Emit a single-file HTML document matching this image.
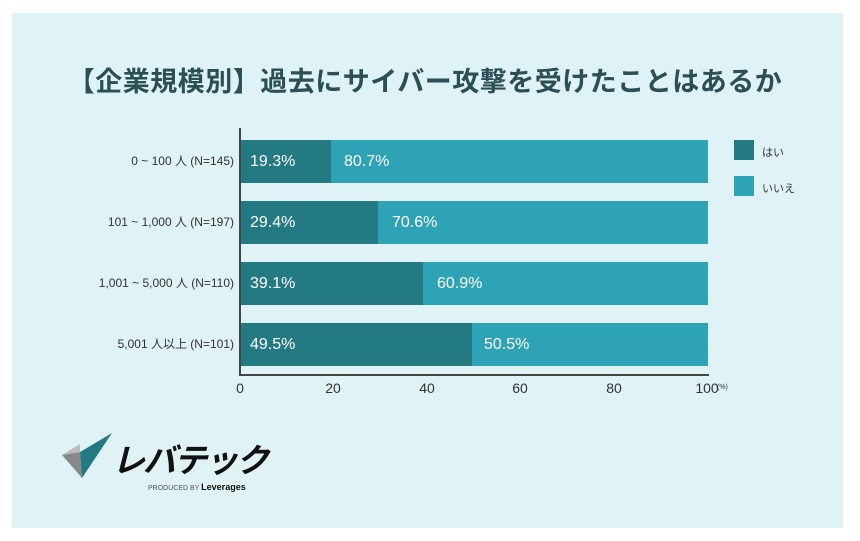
<!DOCTYPE html>
<html><head><meta charset="utf-8"><style>
body{margin:0;width:860px;height:541px;background:#fff;position:relative;overflow:hidden;font-family:"Liberation Sans","Noto Sans CJK JP",sans-serif;}
.panel{position:absolute;left:12px;top:13px;width:831px;height:515px;background:#dff2f5;}
.t{position:absolute;white-space:nowrap;}
.bar{position:absolute;height:43px;}
.d{background:#237a82}.l{background:#2ea3b5}
.v{position:absolute;color:#fff;font-size:16px;line-height:43px;}
.lab{position:absolute;right:626px;font-size:12px;color:#333;line-height:43px;white-space:nowrap;}
.tick{position:absolute;top:380px;font-size:14px;color:#333;width:40px;text-align:center;}
</style></head><body>
<div class="panel"></div>
<div class="t" style="left:0;width:850px;text-align:center;top:60px;font-size:27px;font-weight:bold;color:#2b4f55;letter-spacing:0.5px;">【企業規模別】過去にサイバー攻撃を受けたことはあるか</div>
<div style="position:absolute;left:239px;top:128px;width:2px;height:248px;background:#444"></div>
<div style="position:absolute;left:239px;top:374px;width:470px;height:2px;background:#444"></div>

<div class="lab" style="top:140px">0 ~ 100 人 (N=145)</div>
<div class="bar d" style="left:241px;top:140px;width:90px"></div><div class="bar l" style="left:331px;top:140px;width:377px"></div>
<div class="v" style="left:250px;top:140px">19.3%</div><div class="v" style="left:344px;top:140px">80.7%</div>

<div class="lab" style="top:201px">101 ~ 1,000 人 (N=197)</div>
<div class="bar d" style="left:241px;top:201px;width:137px"></div><div class="bar l" style="left:378px;top:201px;width:330px"></div>
<div class="v" style="left:250px;top:201px">29.4%</div><div class="v" style="left:392px;top:201px">70.6%</div>

<div class="lab" style="top:262px">1,001 ~ 5,000 人 (N=110)</div>
<div class="bar d" style="left:241px;top:262px;width:182px"></div><div class="bar l" style="left:423px;top:262px;width:285px"></div>
<div class="v" style="left:250px;top:262px">39.1%</div><div class="v" style="left:437px;top:262px">60.9%</div>

<div class="lab" style="top:323px">5,001 人以上 (N=101)</div>
<div class="bar d" style="left:241px;top:323px;width:231px"></div><div class="bar l" style="left:472px;top:323px;width:236px"></div>
<div class="v" style="left:250px;top:323px">49.5%</div><div class="v" style="left:484px;top:323px">50.5%</div>

<div class="tick" style="left:220px">0</div>
<div class="tick" style="left:313px">20</div>
<div class="tick" style="left:407px">40</div>
<div class="tick" style="left:500px">60</div>
<div class="tick" style="left:594px">80</div>
<div class="tick" style="left:687px">100</div>
<div class="t" style="left:717px;top:384px;font-size:7px;color:#333">(%)</div>

<div style="position:absolute;left:734px;top:140px;width:20px;height:20px;background:#237a82"></div>
<div class="t" style="left:762px;top:144px;font-size:11px;color:#333">はい</div>
<div style="position:absolute;left:734px;top:176px;width:20px;height:20px;background:#2ea3b5"></div>
<div class="t" style="left:762px;top:180px;font-size:11px;color:#333">いいえ</div>

<svg style="position:absolute;left:60px;top:430px" width="60" height="50"><polygon points="2,25 20,22 22,48" fill="#888"/><polygon points="20,22 52,3 22,48" fill="#237a82"/><polygon points="2,25 20,14 20,22" fill="#bbb"/></svg>
<div class="t" style="left:112px;top:434px;font-size:33px;font-weight:bold;font-style:italic;color:#111;letter-spacing:-2px;">レバテック</div>
<div class="t" style="left:148px;top:482px;font-size:7px;color:#555">PRODUCED BY <b style="font-size:9px;color:#111">Leverages</b></div>
</body></html>
